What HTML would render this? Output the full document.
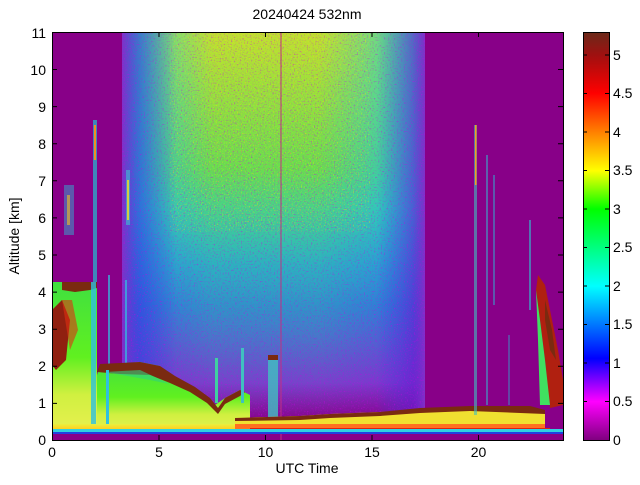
<!DOCTYPE html>
<html><head><meta charset="utf-8"><style>
body{margin:0;background:#fff;width:640px;height:480px;overflow:hidden}
svg text{font-family:"Liberation Sans",sans-serif;font-size:14px;fill:#000}
</style></head><body>
<svg width="640" height="480" viewBox="0 0 640 480" xmlns="http://www.w3.org/2000/svg">
<defs>
<linearGradient id="cb" x1="0" y1="1" x2="0" y2="0">
<stop offset="0" stop-color="#800080"/>
<stop offset="0.094" stop-color="#ff00ff"/>
<stop offset="0.2" stop-color="#0000ff"/>
<stop offset="0.377" stop-color="#00ffff"/>
<stop offset="0.566" stop-color="#00ff00"/>
<stop offset="0.66" stop-color="#ffff00"/>
<stop offset="0.755" stop-color="#ff8000"/>
<stop offset="0.85" stop-color="#ff0000"/>
<stop offset="0.943" stop-color="#a01010"/>
<stop offset="1" stop-color="#6a2a1a"/>
</linearGradient>
<linearGradient id="nv" x1="0" y1="0" x2="0" y2="1">
<stop offset="0" stop-color="#30d8c0"/>
<stop offset="0.45" stop-color="#20c0e0"/>
<stop offset="0.7" stop-color="#3070e0"/>
<stop offset="0.9" stop-color="#8030d0"/>
<stop offset="1" stop-color="#880088"/>
</linearGradient>
<linearGradient id="gv" x1="0" y1="0" x2="0" y2="1">
<stop offset="0" stop-color="#c0e030" stop-opacity="1"/>
<stop offset="0.35" stop-color="#70e040" stop-opacity="0.9"/>
<stop offset="0.6" stop-color="#30d0a0" stop-opacity="0.5"/>
<stop offset="1" stop-color="#30d0a0" stop-opacity="0"/>
</linearGradient>
<linearGradient id="hm" x1="0" y1="0" x2="1" y2="0">
<stop offset="0" stop-color="#fff" stop-opacity="0"/>
<stop offset="0.3" stop-color="#fff" stop-opacity="1"/>
<stop offset="0.65" stop-color="#fff" stop-opacity="1"/>
<stop offset="1" stop-color="#fff" stop-opacity="0"/>
</linearGradient>
<mask id="hmask"><rect x="122" y="32" width="303" height="400" fill="url(#hm)"/></mask>
<linearGradient id="edge" x1="0" y1="0" x2="1" y2="0">
<stop offset="0" stop-color="#8030c8"/>
<stop offset="0.06" stop-color="#3040e0" stop-opacity="0.6"/>
<stop offset="0.18" stop-color="#3040e0" stop-opacity="0"/>
<stop offset="0.84" stop-color="#3040e0" stop-opacity="0"/>
<stop offset="0.96" stop-color="#6020d0" stop-opacity="0.6"/>
<stop offset="1" stop-color="#8030c8"/>
</linearGradient>
<linearGradient id="leftc" x1="0" y1="0" x2="0" y2="1">
<stop offset="0" stop-color="#40e040"/>
<stop offset="0.5" stop-color="#60f020"/>
<stop offset="0.75" stop-color="#d0f040"/>
<stop offset="1" stop-color="#e8f050"/>
</linearGradient>
<linearGradient id="bot" x1="0" y1="0" x2="0" y2="1">
<stop offset="0" stop-color="#e8f040"/>
<stop offset="0.6" stop-color="#ffd020"/>
<stop offset="1" stop-color="#ff8000"/>
</linearGradient>
<filter id="spk" x="0" y="0" width="100%" height="100%">
<feTurbulence type="fractalNoise" baseFrequency="0.7" numOctaves="1" seed="3"/>
<feColorMatrix type="matrix" values="0 0 0 0 0.6  0 0 0 0 0  0 0 0 0 0.8  4 0 0 0 -2.2"/>
</filter>
<filter id="spk2" x="0" y="0" width="100%" height="100%">
<feTurbulence type="fractalNoise" baseFrequency="0.75" numOctaves="1" seed="9"/>
<feColorMatrix type="matrix" values="0 0 0 0 1  0 0 0 0 0.8  0 0 0 0 0  4 0 0 0 -2.3"/>
</filter>
<clipPath id="pc"><rect x="52" y="32" width="511" height="408"/></clipPath>
</defs>

<rect x="52" y="32" width="511" height="408" fill="#880088"/>
<g clip-path="url(#pc)">
<rect x="122" y="32" width="303" height="390" fill="url(#nv)"/>
<rect x="122" y="32" width="303" height="390" fill="url(#gv)" mask="url(#hmask)"/>
<rect x="122" y="32" width="303" height="390" fill="url(#edge)"/>
<rect x="122" y="32" width="303" height="390" filter="url(#spk)" opacity="0.5"/>
<rect x="170" y="32" width="200" height="200" filter="url(#spk2)" opacity="0.6"/>
<line x1="281" y1="32" x2="281" y2="440" stroke="#c03080" stroke-width="1"/>

<rect x="52" y="282" width="45" height="150" fill="url(#leftc)"/>
<path d="M62,282 L97,282 L97,288 L90,290 L75,292 L62,290Z" fill="#7a2a10"/>
<path d="M52,310 L62,300 L70,320 L66,360 L56,370 L52,365Z" fill="#902010"/>
<path d="M62,300 L72,300 L78,330 L70,350 Z" fill="#e03010" opacity="0.6"/>
<rect x="91" y="282" width="5" height="150" fill="#30c0e0" opacity="0.8"/>
<rect x="93" y="120" width="4" height="162" fill="#20c0d0" opacity="0.7"/>
<rect x="94" y="125" width="2" height="35" fill="#f09020"/>
<rect x="64" y="185" width="10" height="50" fill="#30b0d0" opacity="0.5"/>
<rect x="67" y="195" width="3" height="30" fill="#f0c020" opacity="0.6"/>
<rect x="126" y="170" width="4" height="55" fill="#40c0d0" opacity="0.6"/>
<rect x="127" y="180" width="2" height="40" fill="#f0e020" opacity="0.8"/>
<rect x="108" y="275" width="2" height="100" fill="#30c0e0" opacity="0.7"/>
<rect x="125" y="280" width="2" height="95" fill="#30c0e0" opacity="0.7"/>

<path d="M97,375 L100,365 L140,362 L160,366 L170,375 L190,385 L205,395 L215,405 L225,398 L240,390 L250,395 L250,432 L97,432Z" fill="url(#leftc)"/>
<path d="M97,372 L100,364 L140,362 L160,366 L175,376 L195,387 L210,398 L218,408 L225,398 L240,390 L245,392 L240,396 L225,404 L218,414 L207,403 L190,392 L170,383 L150,375 L120,374 Z" fill="#7a2a10"/>
<path d="M105,372 L140,370 L170,384 L150,380Z" fill="#30d080" opacity="0.6"/>
<rect x="106" y="370" width="3" height="62" fill="#30c0e0"/>
<rect x="215" y="358" width="3" height="45" fill="#40d0a0"/>
<rect x="241" y="348" width="3" height="55" fill="#40c0c0"/>
<rect x="268" y="358" width="10" height="60" fill="#40c0c0" opacity="0.8"/>
<rect x="268" y="355" width="10" height="5" fill="#7a2a10"/>
<path d="M235,418 L300,416 L330,414 L380,412 L420,410 L470,408 L530,408 L545,412 L545,432 L235,432Z" fill="#f0e030"/>
<path d="M235,418 L300,416 L330,414 L380,412 L420,408 L470,406 L530,406 L545,410 L545,414 L470,411 L420,413 L380,416 L330,418 L300,420 L235,421Z" fill="#7a2a10"/>
<rect x="235" y="424" width="310" height="8" fill="#ff7020"/>
<rect x="250" y="428" width="300" height="4" fill="#e02010"/>
<rect x="474" y="125" width="3" height="290" fill="#40c0c0" opacity="0.6"/>
<rect x="475" y="125" width="1.5" height="60" fill="#f0a020"/>
<rect x="486" y="155" width="2" height="250" fill="#30c0d0" opacity="0.5"/>
<rect x="493" y="175" width="2" height="130" fill="#30b0d0" opacity="0.5"/>
<rect x="508" y="335" width="2" height="70" fill="#30b0d0" opacity="0.4"/>
<rect x="529" y="220" width="2" height="90" fill="#30c0d0" opacity="0.6"/>
<path d="M538,275 L545,285 L552,320 L558,350 L563,380 L563,405 L550,408 L545,360 L540,320 L536,290Z" fill="#b02010"/>
<path d="M536,290 L540,320 L545,360 L550,405 L540,405 L538,340 Z" fill="#40e060"/>
<path d="M545,300 L552,330 L556,360 L550,350 L545,320Z" fill="#7a2a10"/>
<rect x="52" y="424" width="183" height="8" fill="url(#bot)"/>
<rect x="52" y="429" width="511" height="3" fill="#30d0e0"/>
<rect x="52" y="432" width="511" height="2" fill="#2040e0"/>
</g>
<rect x="52.5" y="32.5" width="511" height="408" fill="none" stroke="#000" stroke-width="1"/>

<g stroke="#000" stroke-width="1">
<path d="M52.5,440v-5M159,440v-5M265.5,440v-5M372,440v-5M478.5,440v-5"/>
<path d="M52.5,32v5M159,32v5M265.5,32v5M372,32v5M478.5,32v5"/>
<path d="M52,440.5h5M52,403.4h5M52,366.3h5M52,329.2h5M52,292.1h5M52,255h5M52,217.9h5M52,180.8h5M52,143.7h5M52,106.6h5M52,69.5h5M52,32.5h5"/>
<path d="M563,403.4h-5M563,366.3h-5M563,329.2h-5M563,292.1h-5M563,255h-5M563,217.9h-5M563,180.8h-5M563,143.7h-5M563,106.6h-5M563,69.5h-5"/>
</g>
<g text-anchor="middle">
<text x="52" y="457">0</text><text x="159" y="457">5</text><text x="265.5" y="457">10</text><text x="372" y="457">15</text><text x="478.5" y="457">20</text>
<text x="307" y="473">UTC Time</text>
<text x="307" y="19">20240424 532nm</text>
</g>
<g text-anchor="end">
<text x="46" y="445">0</text><text x="46" y="408">1</text><text x="46" y="371">2</text><text x="46" y="334">3</text><text x="46" y="297">4</text><text x="46" y="260">5</text><text x="46" y="223">6</text><text x="46" y="186">7</text><text x="46" y="149">8</text><text x="46" y="112">9</text><text x="46" y="75">10</text><text x="46" y="38">11</text>
</g>
<text transform="translate(19,236) rotate(-90)" text-anchor="middle">Altitude [km]</text>

<rect x="583" y="32" width="26" height="408" fill="url(#cb)"/>
<rect x="583.5" y="32.5" width="26" height="408" fill="none" stroke="#000"/>
<g stroke="#000">
<path d="M583,401.5h4M583,363h4M583,324.5h4M583,286h4M583,247.5h4M583,209h4M583,170.5h4M583,132h4M583,93.5h4M583,55h4"/>
<path d="M609,401.5h-4M609,363h-4M609,324.5h-4M609,286h-4M609,247.5h-4M609,209h-4M609,170.5h-4M609,132h-4M609,93.5h-4M609,55h-4"/>
</g>
<g>
<text x="613" y="445">0</text><text x="613" y="406">0.5</text><text x="613" y="368">1</text><text x="613" y="329">1.5</text><text x="613" y="291">2</text><text x="613" y="252">2.5</text><text x="613" y="214">3</text><text x="613" y="175">3.5</text><text x="613" y="137">4</text><text x="613" y="98">4.5</text><text x="613" y="60">5</text>
</g>
</svg>
</body></html>
